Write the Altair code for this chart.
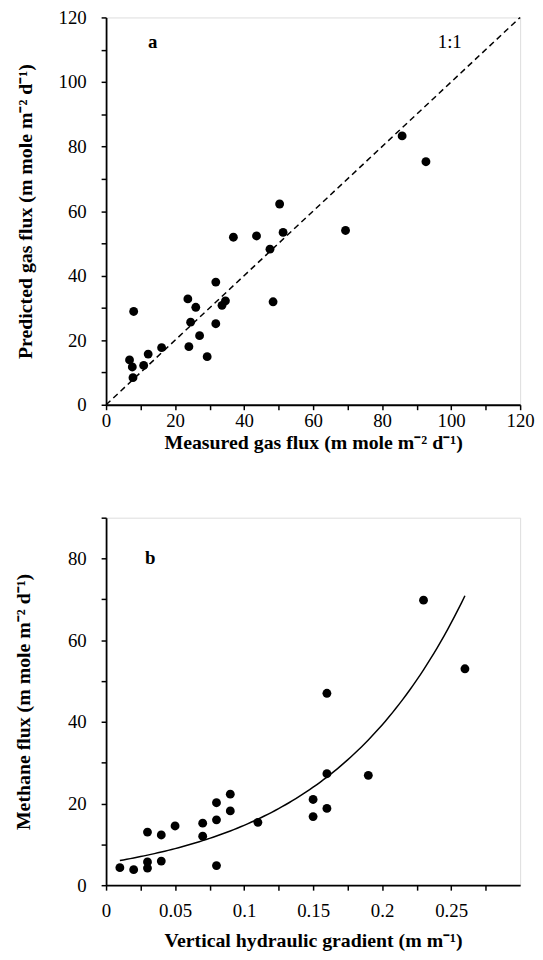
import altair as alt
import pandas as pd

# Panel a: measured vs predicted gas flux
measured = [6.8, 7.6, 7.8, 8.0, 10.9, 12.2, 16.1, 23.7, 24.0, 24.5, 26.0, 27.1, 29.3,
            31.8, 31.8, 33.6, 34.6, 36.9, 43.6, 47.5, 48.4, 50.3, 51.3, 69.4, 85.8, 92.7]
predicted = [13.9, 11.7, 8.4, 28.9, 12.2, 15.7, 17.7, 32.8, 18.0, 25.6, 30.2, 21.4, 14.9,
             38.0, 25.1, 30.8, 32.2, 51.9, 52.3, 48.2, 31.9, 62.2, 53.4, 54.0, 83.3, 75.3]
one_to_one = [0, 120]

# Panel b: vertical hydraulic gradient vs methane flux
gradient = [0.01, 0.02, 0.03, 0.03, 0.03, 0.04, 0.04, 0.05, 0.07, 0.07, 0.08, 0.08, 0.08,
            0.09, 0.09, 0.11, 0.15, 0.15, 0.16, 0.16, 0.16, 0.19, 0.23, 0.26]
methane = [4.3, 3.8, 13.0, 5.7, 4.2, 12.3, 5.9, 14.5, 15.2, 12.0, 20.2, 16.0, 4.8,
           22.3, 18.2, 15.4, 21.0, 16.8, 27.3, 18.8, 47.0, 26.9, 69.8, 53.0]

FONT = "Liberation Serif"
LBL = 19
TTL = 20

df_a = pd.DataFrame({"m": measured, "p": predicted})
df_line = pd.DataFrame({"m": one_to_one, "p": one_to_one})
df_b = pd.DataFrame({"g": gradient, "f": methane})


def mk_axis(title, vals, label_expr, orient, label_pad, title_off):
    kw = dict(
        title=title, values=vals, grid=False, labelExpr=label_expr,
        labelFont=FONT, labelFontSize=LBL, labelColor="black",
        titleFont=FONT, titleFontSize=TTL, titleFontWeight="bold", titleColor="black",
        titleBaseline="middle",
        domainColor="black", domainWidth=1.8, tickColor="black", tickSize=5, tickWidth=1.5,
        labelPadding=label_pad, labelFlush=False, labelOverlap=False,
    )
    if orient == "y":
        kw["titleX"] = -title_off
    else:
        kw["titleY"] = title_off
    return alt.Axis(**kw)


ticks_a = list(range(0, 121, 10))
expr20 = "datum.value % 20 == 0 ? datum.label : ''"
xa = alt.X("m:Q", scale=alt.Scale(domain=[0, 120], nice=False),
           axis=mk_axis("Measured  gas flux (m mole m\u207b\u00b2 d\u207b\u00b9)", ticks_a, expr20, "x", 2, 38))
ya = alt.Y("p:Q", scale=alt.Scale(domain=[0, 120], nice=False),
           axis=mk_axis("Predicted gas flux (m mole m\u207b\u00b2 d\u207b\u00b9)", ticks_a, expr20, "y", 15, 81))

pts_a = alt.Chart(df_a).mark_circle(size=80, color="black", opacity=1).encode(x=xa, y=ya)
line_a = alt.Chart(df_line).mark_line(color="black", strokeDash=[6, 4], strokeWidth=1.5).encode(x=xa, y=ya)
lab_a = alt.Chart(pd.DataFrame({"m": [13.5], "p": [112.5], "t": ["a"]})).mark_text(
    font=FONT, fontSize=LBL, fontWeight="bold", color="black").encode(x=xa, y=ya, text="t:N")
lab_11 = alt.Chart(pd.DataFrame({"m": [99.6], "p": [112.5], "t": ["1:1"]})).mark_text(
    font=FONT, fontSize=LBL, color="black").encode(x=xa, y=ya, text="t:N")

panel_a = (pts_a + line_a + lab_a + lab_11).properties(width=418, height=391)

# Panel b
gx_vals = [i * 0.025 for i in range(0, 13)]
xb = alt.X("g:Q", scale=alt.Scale(domain=[0, 0.3], nice=False),
           axis=mk_axis("Vertical hydraulic gradient (m m\u207b\u00b9)", gx_vals,
                        "round(datum.value*40) % 2 == 0 ? format(datum.value, '~g') : ''", "x", 12, 56))
yb = alt.Y("f:Q", scale=alt.Scale(domain=[0, 90], nice=False),
           axis=mk_axis("Methane flux (m mole m\u207b\u00b2 d\u207b\u00b9)", list(range(0, 91, 10)),
                        expr20, "y", 15, 83))

pts_b = alt.Chart(df_b).mark_circle(size=80, color="black", opacity=1).encode(x=xb, y=yb)

# Exponential trendline (least squares on ln(flux), as a spreadsheet trendline does)
fit_b = (
    alt.Chart(df_b)
    .transform_calculate(lnf="log(datum.f)")
    .transform_joinaggregate(mg="mean(g)", ml="mean(lnf)")
    .transform_calculate(sxy="(datum.g-datum.mg)*(datum.lnf-datum.ml)",
                         sxx="(datum.g-datum.mg)*(datum.g-datum.mg)")
    .transform_aggregate(Sxy="sum(sxy)", Sxx="sum(sxx)", mg="mean(mg)", ml="mean(ml)",
                         gmin="min(g)", gmax="max(g)")
    .transform_calculate(b="datum.Sxy/datum.Sxx",
                         a="datum.ml - datum.Sxy/datum.Sxx*datum.mg",
                         k="sequence(0, 101)")
    .transform_flatten(["k"])
    .transform_calculate(g="datum.gmin + (datum.gmax-datum.gmin)*datum.k/100",
                         f="exp(datum.a + datum.b*datum.g)")
    .mark_line(color="black", strokeWidth=1.5)
    .encode(x=xb, y=yb)
)
lab_b = alt.Chart(pd.DataFrame({"g": [0.032], "f": [80], "t": ["b"]})).mark_text(
    font=FONT, fontSize=LBL, fontWeight="bold", color="black").encode(x=xb, y=yb, text="t:N")

panel_b = (pts_b + fit_b + lab_b).properties(width=418, height=371)

chart = alt.vconcat(panel_a, panel_b, spacing=55).properties(
    padding={"left": 5, "top": -5, "right": 0, "bottom": 5}
).configure_view(stroke="black", strokeWidth=1).configure(background="white")

chart.save("out.html", embed_options={"renderer": "svg", "actions": False})
